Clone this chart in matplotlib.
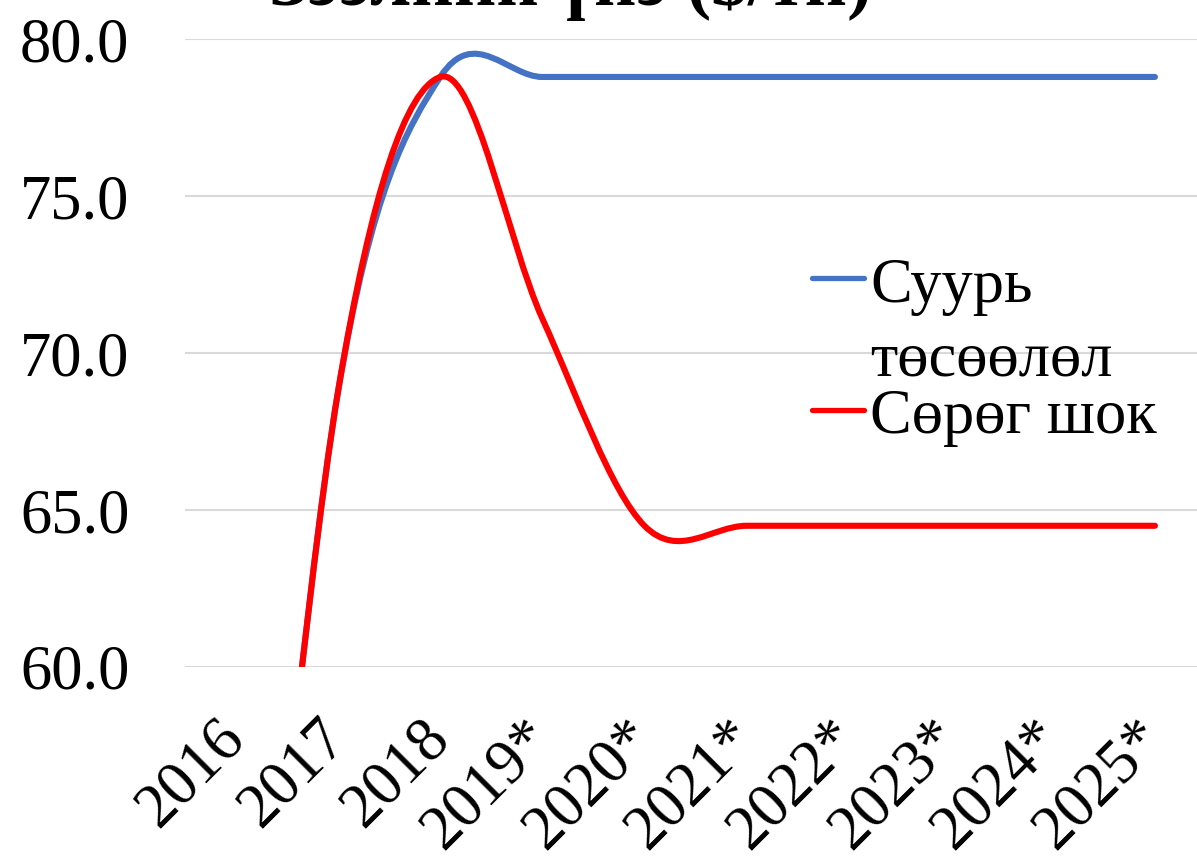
import numpy as np
import matplotlib
matplotlib.use('Agg')
import matplotlib.pyplot as plt
from matplotlib.path import Path
from matplotlib.patches import PathPatch
from matplotlib.lines import Line2D

plt.rcParams['font.family'] = ['Liberation Serif', 'DejaVu Serif']

# ── DATA ─────────────────────────────────────────────────────────────────────
years = ['2016', '2017', '2018', '2019*', '2020*', '2021*', '2022*', '2023*', '2024*', '2025*']
base = [40.0, 68.8, 78.8, 78.8, 78.8, 78.8, 78.8, 78.8, 78.8, 78.8]
shock = [40.0, 68.8, 78.8, 71.1, 64.5, 64.5, 64.5, 64.5, 64.5, 64.5]
series_names = ['Суурь\nтөсөөлөл', 'Сөрөг шок']
series_colors = ['#4472C4', '#FF0000']
title = 'Зээлийн үнэ ($/тн)'

W, H = 1197, 859


def fx(px):
    return px / W


def fy(py):
    return 1 - py / H


def smooth_path(xs, ys):
    # excel-like smoothed line: cubic bezier through every point
    pts = np.column_stack([xs, ys]).astype(float)
    n = len(pts)
    verts = [pts[0]]
    codes = [Path.MOVETO]
    for i in range(n - 1):
        p_prev = pts[max(i - 1, 0)]
        p0 = pts[i]
        p1 = pts[i + 1]
        p_next = pts[min(i + 2, n - 1)]
        c1 = p0 + (p1 - p_prev) / 6
        c2 = p1 - (p_next - p0) / 6
        verts += [c1, c2, p1]
        codes += [Path.CURVE4] * 3
    return Path(verts, codes)


fig = plt.figure(figsize=(W / 100, H / 100), dpi=100)
left, right = 185, 1206
top, bottom = 39.3, 667
ax = fig.add_axes([fx(left), fy(bottom), (right - left) / W, (bottom - top) / H])

x = np.arange(len(years))
for vals, col in zip([base, shock], series_colors):
    patch = PathPatch(smooth_path(x, vals), facecolor='none', edgecolor=col,
                      lw=4.4, capstyle='round', joinstyle='round', zorder=3)
    ax.add_patch(patch)

ax.set_xlim(-0.5, len(years) - 0.5)
ax.set_ylim(60, 80)
ax.set_yticks([60, 65, 70, 75, 80])
ax.set_yticklabels([f'{v:.1f}' for v in [60, 65, 70, 75, 80]], fontsize=45)
ax.set_xticks(x)
ax.set_xticklabels(years, fontsize=45, rotation=45, ha='right', va='center',
                   rotation_mode='anchor')
ax.tick_params(axis='y', length=0, pad=40)
ax.tick_params(axis='x', length=0, pad=45)
ax.grid(axis='y', color='#D9D9D9', lw=1.5)
ax.set_axisbelow(True)
for s in ax.spines.values():
    s.set_visible(False)

# title (only its lower part fits in the picture)
fig.text(fx(570), fy(5), title, ha='center', va='baseline', fontsize=53,
         fontweight='bold')

# legend, drawn by hand like excel wraps it
for (ly, ty), name, col in zip([(278, 302), (410, 433)], series_names, series_colors):
    fig.add_artist(Line2D([fx(812), fx(864)], [fy(ly), fy(ly)], transform=fig.transFigure,
                          color=col, lw=3.8, solid_capstyle='round'))
    lines = name.split('\n')
    for k, t in enumerate(lines):
        fig.text(fx(870), fy(ty + k * 73), t, ha='left', va='baseline', fontsize=45)

fig.savefig('out.png', dpi=100)
